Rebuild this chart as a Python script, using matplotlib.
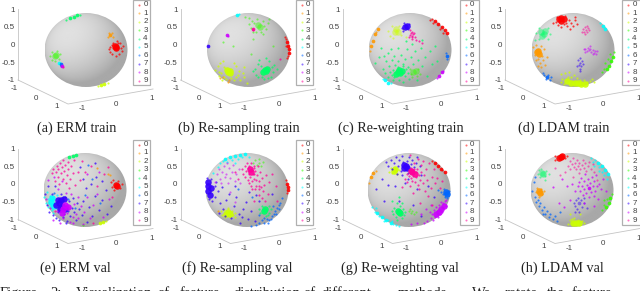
import numpy as np
import matplotlib
matplotlib.use("Agg")
import matplotlib.pyplot as plt
from matplotlib.patches import Ellipse, Rectangle

# class colours, hsv(10)
colors = ["#FF0000","#FF9900","#CCFF00","#33FF00","#00FF66","#00FFFF","#0066FF","#3300FF","#CC00FF","#FF0099"]
z_ticks = [-1,-0.5,0,0.5,1]
floor_ticks = ["-1","0","1"]
titles = ["(a) ERM train","(b) Re-sampling train","(c) Re-weighting train","(d) LDAM train",
          "(e) ERM val","(f) Re-sampling val","(g) Re-weighting val","(h) LDAM val"]
caption_words = ["Figure","2:","Visualization","of","feature","distribution","of","different","methods.","We","rotate","the","feature"]

# points as seen on the sphere, 1 = edge of the ball. core = solid blobs, dots = single samples
core_a = {0:[(.72,.09),(.73,.05),(.70,.12)], 1:[(.59,.40)], 3:[(-.75,-.17),(-.73,-.13)], 4:[(-.38,.86),(-.30,.90),(-.22,.94)],
          2:[(.36,-.95),(.44,-.92)], 5:[(-.64,-.34)], 6:[(-.61,-.39)], 8:[(-.58,-.43)]}
dots_a = {0:[(.55,.02),(.58,-.05),(.62,-.10),(.62,.14),(.66,.20),(.74,.24),(.83,.19),(.88,.12),(.86,-.02),(.80,-.10),(.72,-.15),(.65,.05),(.59,.08),(.84,.06),(.78,.18)],
          1:[(.55,.47),(.63,.46),(.54,.36),(.64,.34)],
          3:[(-.86,-.15),(-.82,-.28),(-.74,-.31),(-.66,-.24),(-.63,-.10),(-.70,-.02),(-.82,-.06)],
          4:[(-.47,.82),(-.15,.95)], 2:[(.28,-.97),(.52,-.88)], 7:[(-.60,-.42)], 9:[(-.56,-.45)]}

core_b = {0:[(.93,.22),(.96,.12),(.97,.02),(.97,-.08)], 2:[(-.50,-.60),(-.44,-.63),(-.52,-.54),(-.45,-.56)], 4:[(.40,-.54),(.43,-.58),(.36,-.60),(.44,-.50)],
          3:[(.22,.67),(.28,.62)], 5:[(-.28,.95)], 9:[(.10,.57)], 8:[(-.52,.40)], 7:[(-.98,.10)]}
dots_b = {0:[(.88,.35),(.90,.30),(.96,-.16),(.93,-.22),(.90,.10)],
          2:[(-.80,-.55),(-.74,-.44),(-.72,-.70),(-.70,-.60),(-.68,-.36),(-.64,-.80),(-.60,-.46),(-.58,-.72),(-.34,-.82),(-.30,-.42),(-.26,-.68),(-.22,-.58),(-.20,-.80),(-.14,-.62),(-.10,-.74),(-.04,-.88),(-.36,-.36),(-.62,-.30),(-.66,-.62),(-.30,-.74),(-.42,-.76),(-.54,-.78),(-.12,-.46)],
          4:[(.16,-.50),(.18,-.68),(.22,-.38),(.24,-.74),(.26,-.28),(.30,-.44),(.32,-.74),(.50,-.30),(.56,-.46),(.60,-.60),(.62,-.40),(.55,-.72),(.42,-.22),(.38,-.78),(.10,-.58),(.68,-.52),(.48,-.76)],
          3:[(.02,.70),(.06,.60),(.08,.78),(.12,.48),(.14,.72),(.18,.50),(.30,.50),(.34,.78),(.38,.66),(.42,.58),(.46,.72),(.36,.44),(.20,.84),(-.08,.88),(.00,.86),(.50,.84),(-.38,.10),(-.62,.22),(.06,-.12),(.60,.10),(.10,.30)],
          1:[(-.68,-.76),(-.62,-.72),(-.50,-.86),(-.46,-.80)], 5:[(-.24,.96)], 8:[(-.49,.38)], 9:[(.75,-.25),(.12,.54)]}

core_c = {0:[(.60,.78),(.68,.71),(.76,.63),(.84,.54),(.90,.46)], 1:[(-.94,.10),(-.90,.25),(-.84,.42),(-.76,.58)], 2:[(-.35,.50),(-.30,.48),(-.34,.56)], 7:[(-.12,.62),(-.08,.64)],
          4:[(-.30,-.60),(-.24,-.63),(-.19,-.58),(-.27,-.55),(-.34,-.64)], 3:[(.08,-.60),(.14,-.57)], 8:[(.70,-.70),(.76,-.60)], 6:[(.88,-.16)], 5:[(-.60,-.82),(-.52,-.88)]}
dots_c = {0:[(.52,.84),(.48,.80),(.56,.72),(.72,.56),(.80,.46)],
          4:[(-.84,-.36),(-.74,-.20),(-.66,-.52),(-.62,-.16),(-.60,-.62),(-.58,-.30),(-.54,-.08),(-.52,-.74),(-.50,-.44),(-.46,.02),(-.44,-.26),(-.42,-.80),(-.38,-.16),(-.36,-.40),(-.30,-.30),(-.28,.06),(-.26,-.80),(-.22,-.14),(-.18,-.38),(-.16,-.86),(-.12,-.24),(-.08,.02),(-.06,-.46),(-.02,-.78),(.02,-.20),(.04,.16),(.08,-.38),(.12,-.04),(.16,-.80),(.20,-.26),(.26,.06),(.30,-.44),(.36,-.18),(.42,-.70),(.48,-.02),(.52,-.38),(.60,.10),(.66,-.30),(-.70,.06),(-.10,.24),(.30,.28),(-.40,-.54),(-.48,-.60),(-.04,-.62),(-.12,-.70),(-.10,-.52),(-.18,-.44),(-.38,-.72),(-.30,-.46),(-.44,-.68)],
          3:[(.00,-.50),(.02,-.66),(.20,-.52),(.24,-.64),(.18,-.70),(.06,-.74)],
          2:[(-.52,.52),(-.48,.38),(-.44,.64),(-.22,.40),(-.18,.56),(-.26,.66),(-.40,.32),(-.10,.36)],
          7:[(-.20,.60),(-.14,.72),(-.04,.56),(-.03,.70),(-.16,.52)],
          9:[(.00,.54),(.02,.46),(.04,.38),(.06,.50),(.08,.42),(.04,.30),(.12,.36),(.14,.28),(.22,.24),(.00,.40),(.28,.20),(-.02,.34),(.10,.46),(.06,.34)],
          8:[(.66,-.76),(.80,-.56)], 5:[(-.66,-.78),(-.46,-.90)], 6:[(.86,-.08),(.90,-.24)],
          1:[(-.96,-.04),(-.82,.50)]}

core_d = {0:[(-.34,.84),(-.28,.86),(-.22,.83),(-.28,.78)], 4:[(-.76,.50),(-.70,.44),(-.74,.38),(-.68,.52)], 1:[(-.84,-.02),(-.82,-.10),(-.86,-.05)], 5:[(.72,.66),(.78,.58)],
          2:[(-.14,-.84),(-.06,-.88),(.04,-.90),(.12,-.88),(.20,-.92),(.30,-.92)], 3:[(.96,-.18),(.92,-.30),(.87,-.42),(.82,-.52)], 6:[(-.62,-.74)]}
dots_d = {0:[(-.10,.82),(-.04,.74),(.04,.80),(.00,.66),(-.14,.66),(-.08,.58),(-.22,.70),(-.42,.76),(-.48,.72),(-.36,.68),(-.30,.62),(-.16,.74),(.06,.88),(-.20,.92),(-.38,.90),(.10,.70)],
          1:[(-.96,.08),(-.92,-.14),(-.90,-.28),(-.84,-.24),(-.80,-.36),(-.74,-.16),(-.72,-.28),(-.70,.02),(-.68,-.40),(-.76,-.46),(-.84,-.44),(-.62,-.20),(-.78,.12),(-.88,.14)],
          9:[(.24,.58),(.26,.50),(.28,.62),(.32,.54),(.34,.48),(.36,.60),(.30,.44),(.38,.54),(.22,.48),(.34,.66)],
          8:[(.26,.02),(.30,.04),(.33,-.02),(.36,.06),(.38,.00),(.42,.02),(.44,-.05),(.47,.00),(.50,-.08),(.53,-.04),(.56,-.10),(.28,-.06),(.40,.10),(.48,-.12),(.58,-.02)],
          7:[(.12,-.28),(.14,-.40),(.16,-.50),(.18,-.34),(.20,-.44),(.22,-.30),(.24,-.38),(.16,-.22),(.10,-.44),(.18,-.56)],
          6:[(-.70,-.68),(-.66,-.78),(-.60,-.68),(-.56,-.80),(-.54,-.72),(-.72,-.62)],
          2:[(-.28,-.66),(-.26,-.78),(-.20,-.62),(-.22,-.92),(-.12,-.72),(-.10,-.60),(-.04,-.74),(.02,-.68),(.10,-.76),(.18,-.80),(.26,-.82),(.34,-.86),(.40,-.84),(.46,-.78),(-.30,-.86),(.50,-.86)],
          3:[(.90,-.10),(.84,-.24),(.78,-.36),(.74,-.50),(.70,-.60),(.98,-.06)],
          4:[(-.88,.46),(-.82,.60),(-.60,.60),(-.56,.44),(-.60,.30),(-.82,.30),(-.92,.28)], 5:[(.66,.72)]}

core_e = {0:[(.74,.13),(.76,.11)], 4:[(-.38,.88),(-.30,.92),(-.22,.95)], 2:[(.36,-.90),(.44,-.87)], 7:[(-.62,-.34),(-.56,-.42),(-.66,-.26),(-.58,-.28),(-.60,-.50),(-.70,-.40),(-.50,-.24),(-.48,-.50)],
          5:[(-.82,-.32),(-.76,-.42),(-.80,-.22)], 8:[(-.52,-.52),(-.48,-.40),(-.42,-.46),(-.56,-.62)]}
dots_e = {0:[(.62,.22),(.66,.08),(.68,.26),(.80,.24),(.84,.06),(.70,.00),(.90,.16)], 1:[(.60,.40),(.56,.44),(.30,.60)],
          7:[(-.96,-.10),(-.92,-.40),(-.90,.10),(-.86,-.60),(-.80,-.10),(-.76,-.68),(-.72,.12),(-.70,-.76),(-.64,-.60),(-.62,-.80),(-.58,-.12),(-.54,-.74),(-.50,-.64),(-.48,-.20),(-.44,-.84),(-.42,-.58),(-.38,-.30),(-.36,-.70),(-.32,-.48),(-.28,-.22),(-.26,-.60),(-.22,-.82),(-.20,-.36),(-.14,-.52),(-.08,-.68),(-.04,-.30),(.04,-.86),(.10,-.46),(.18,-.70),(.24,-.16),(.34,-.54),(.42,-.28),(.52,-.66),(.14,.16),(.26,.36),(.02,.06),(-.06,.30),(.40,.24),(.50,.00),(.62,-.44),(-.12,.62),(.24,.72),(-.46,-.90)],
          8:[(-.94,-.24),(-.88,.28),(-.84,-.48),(-.78,-.80),(-.74,.34),(-.68,-.58),(-.64,.04),(-.60,-.88),(-.56,.24),(-.52,-.76),(-.46,-.08),(-.44,-.62),(-.40,-.46),(-.36,-.86),(-.34,-.12),(-.30,-.72),(-.26,-.38),(-.22,-.66),(-.18,-.18),(-.16,-.76),(-.10,-.44),(-.02,-.60),(.06,-.20),(.12,-.76),(.20,-.40),(.30,-.10),(.44,-.72),(.58,-.24),(.06,.42),(.34,.48),(-.30,-.90),(-.04,-.92)],
          9:[(-.80,.46),(-.76,.56),(-.72,.24),(-.70,.48),(-.68,.66),(-.66,.36),(-.64,.58),(-.62,.16),(-.60,.72),(-.58,.46),(-.56,.62),(-.54,.30),(-.52,.82),(-.50,.52),(-.48,.68),(-.46,.18),(-.44,.40),(-.42,.76),(-.40,.58),(-.38,.06),(-.36,.30),(-.34,.66),(-.30,.46),(-.26,.80),(-.24,.14),(-.18,.50),(-.12,.26),(-.08,.78),(.00,.50),(.14,.64),(.28,.10),(.46,.44),(.56,.62),(.66,-.18),(.20,-.88),(-.72,-.56)],
          5:[(-.98,-.18),(-.94,-.36),(-.90,-.24),(-.88,-.46),(-.84,-.16),(-.80,-.54),(-.76,-.20),(-.72,-.34),(-.70,-.48),(-.92,-.06),(-.68,-.14),(-.86,-.34),(-.78,-.62)],
          6:[(-.74,-.08),(-.54,-.18),(-.40,-.24),(-.24,-.48),(.00,-.14),(.18,.30),(.36,-.36),(.08,.68)],
          3:[(-.06,-.94)], 2:[(.50,-.84)]}

core_f = {0:[(.97,.16),(.98,.08),(.98,.00)], 7:[(-.93,.22),(-.95,.10),(-.94,-.02),(-.90,-.14),(-.86,.06)], 5:[(-.52,.84),(-.40,.89),(-.28,.92),(-.16,.94),(-.04,.96)],
          2:[(-.46,-.60),(-.42,-.64),(-.50,-.64)], 4:[(.44,-.52),(.42,-.58)], 9:[(.10,.50),(.08,.58)]}
dots_f = {0:[(.95,.26),(.96,-.08)],
          7:[(-.96,.32),(-.92,-.24),(-.86,.30),(-.84,-.30),(-.78,.10),(-.76,-.18),(-.74,.22),(-.70,-.04),(-.64,-.34),(-.60,.08),(-.58,-.52),(-.50,-.26),(-.44,-.12),(-.38,-.76),(-.32,-.44),(-.26,-.20),(-.20,-.66),(-.16,-.88),(-.10,-.50),(-.02,-.32),(.02,-.78),(.10,-.58),(.20,-.84),(.30,-.30),(.06,-.06),(-.30,.10),(.60,-.12),(.22,-.14),(-.12,-.72),(-.68,-.62),(-.52,-.70)],
          9:[(-.12,.56),(-.10,.42),(-.06,.66),(-.04,.36),(-.02,.52),(.00,.74),(.02,.28),(.04,.44),(.06,.64),(.08,.36),(.10,.72),(.12,.24),(.14,.44),(.16,.60),(.18,.30),(.20,.52),(.22,.12),(.24,.40),(.26,.66),(.28,.04),(.30,.24),(.32,.50),(.34,.08),(.36,.32),(.38,-.02),(.42,.14),(.46,.40),(.50,-.10),(.54,.22),(.60,.44),(.20,.02),(.12,.02),(.28,-.14),(.36,-.22),(-.22,.30),(-.30,.50),(.70,.12),(.44,-.30),(.72,-.30),(.18,-.30),(.05,.20),(.10,.12),(.30,.12),(.22,.26),(.18,.44),(.02,.60),(.12,.54),(.16,.66)],
          8:[(-.72,.44),(-.68,.58),(-.66,.30),(-.60,.50),(-.56,.66),(-.54,.34),(-.50,.44),(-.46,.18),(-.44,.60),(-.40,.32),(-.36,.50),(-.34,.68),(-.30,.24),(-.26,.42),(-.20,.58),(-.16,.18),(-.76,.22),(-.62,.18),(-.42,-.06),(-.30,-.32),(-.48,.74)],
          5:[(-.66,.72),(-.58,.78),(-.48,.76),(-.36,.82),(-.22,.84),(-.12,.88),(.04,.90),(-.70,.62),(-.82,.46),(-.30,.74)],
          3:[(.14,.74),(.20,.80),(.24,.68),(.28,.74),(.34,.66),(.38,.76),(.30,.84)],
          2:[(-.62,-.56),(-.60,-.68),(-.56,-.54),(-.54,-.72),(-.36,-.56),(-.34,-.68),(-.30,-.62),(-.40,-.74),(-.46,-.48),(-.28,-.74)],
          4:[(.30,-.50),(.32,-.62),(.36,-.42),(.52,-.44),(.54,-.62),(.50,-.68),(.58,-.52),(.46,-.70)],
          6:[(.10,-.96),(.22,-.94),(.30,-.90),(.36,-.82),(.42,-.88),(.48,-.78),(.54,-.80),(.60,-.70),(.64,-.64),(.68,-.56),(.72,-.48),(.76,-.40),(.80,-.34),(.62,-.44),(.50,-.88),(.70,-.66),(.40,-.76),(.84,-.22),(.58,-.78),(.30,-.68),(.78,-.52),(-.22,.02),(.12,-.20)],
          1:[(-.70,-.58)]}

core_g = {0:[(.62,.72),(.70,.65),(.78,.58),(.86,.50)], 1:[(-.92,.34),(-.86,.46)], 2:[(-.36,.52),(-.33,.56)], 7:[(-.12,.68),(-.08,.66),(-.12,.60),(-.05,.60)], 9:[(.08,.48),(.14,.42),(.05,.52)],
          6:[(.92,-.12),(.90,-.06)], 8:[(.72,-.60),(.78,-.52),(.66,-.66),(.84,-.44)], 5:[(-.76,-.62),(-.66,-.74),(-.56,-.82),(-.44,-.90)], 4:[(-.25,-.60),(-.22,-.62),(-.27,-.56)]}
dots_g = {0:[(.56,.78),(.80,.54)],
          7:[(-.56,.76),(-.50,.66),(-.44,.82),(-.40,.56),(-.36,.72),(-.32,.90),(-.30,.44),(-.26,.64),(-.24,.80),(-.20,.52),(-.18,.92),(-.16,.40),(-.14,.76),(-.04,.78),(-.02,.46),(.00,.88),(.04,.70),(.08,.80),(.12,.62),(.16,.74),(.20,.90),(.26,.66),(-.66,.30),(-.34,.10),(-.10,.20),(.30,.40),(.46,.12),(.20,.04),(-.50,.14),(-.24,-.30),(.60,-.20),(-.02,.30),(.28,-.70),(.10,-.40),(-.80,.04),(-.60,-.30)],
          9:[(-.10,.30),(-.06,.44),(-.04,.22),(.00,.38),(.02,.12),(.04,.32),(.06,.60),(.08,.24),(.10,.38),(.12,.56),(.14,.22),(.16,.48),(.18,.34),(.20,.58),(.22,.14),(.24,.40),(.26,.26),(.28,.50),(.30,.68),(.34,.18),(.36,.40),(.40,.56),(.44,.28),(.48,.72),(.52,.06),(.56,.36),(.62,.20),(.68,.32),(.74,.06),(.38,-.04),(.24,.02),(.46,-.16),(.10,-.08),(-.18,.08),(.56,-.40),(.26,-.36),(.80,.24),(.12,.74),(.22,.84),(.34,.78),(.02,.94),(.60,.56)],
          2:[(-.48,.50),(-.44,.60),(-.42,.46),(-.30,.44),(-.24,.54)],
          4:[(-.42,-.56),(-.38,-.66),(-.36,-.48),(-.32,-.74),(-.14,-.52),(-.12,-.68),(-.10,-.60),(-.18,-.76),(-.22,-.44),(-.30,-.36),(-.28,-.82),(-.40,-.30),(-.25,-.18),(-.18,-.34)],
          3:[(.00,-.58),(.04,-.62),(.08,-.58),(.12,-.64),(.16,-.60),(.03,-.52)],
          8:[(.52,-.76),(.56,-.64),(.58,-.82),(.60,-.54),(.62,-.72),(.64,-.46),(.68,-.56),(.70,-.72),(.72,-.40),(.74,-.66),(.76,-.32),(.80,-.60),(.82,-.34),(.86,-.30),(.90,-.28),(.44,-.84),(.50,-.60),(.36,-.88),(.30,-.66),(.42,-.50),(.54,-.40),(.88,-.42),(.06,-.92),(.20,-.90)],
          5:[(-.88,-.46),(-.82,-.60),(-.72,-.70),(-.62,-.72),(-.60,-.84),(-.50,-.80),(-.42,-.84),(-.32,-.94),(-.38,-.92),(-.24,-.96),(-.80,-.48)],
          6:[(.82,-.12),(.86,-.20),(.96,-.04),(.84,.02),(.92,-.22),(.78,-.06),(.70,.00)],
          1:[(-.80,.52),(-.96,.20)]}

core_h = {0:[(-.32,.87),(-.27,.90),(-.23,.92)], 4:[(-.72,.46),(-.70,.42)], 1:[(-.79,-.02),(-.78,-.08)], 5:[(.62,.74),(.72,.64),(.80,.54),(.86,.42)],
          2:[(.02,-.88),(.10,-.90),(.17,-.88)], 3:[(.92,-.22),(.88,-.34),(.82,-.46)], 7:[(.18,-.36)], 8:[(.42,.06)]}
dots_h = {0:[(-.40,.82),(-.18,.86),(-.12,.92),(-.42,.92)],
          9:[(-.10,.66),(-.06,.78),(-.04,.58),(.00,.70),(.02,.86),(.04,.62),(.08,.74),(.10,.56),(.12,.82),(.14,.66),(.18,.74),(.20,.58),(.24,.68),(.26,.82),(.28,.60),(.32,.72),(.34,.52),(.38,.64),(.42,.76),(.46,.58),(.50,.70),(.54,.50),(.16,.46),(-.18,.50),(-.30,.40),(-.40,.60),(.60,.28),(.02,.36)],
          8:[(.14,.10),(.18,.22),(.20,-.04),(.22,.32),(.24,.12),(.26,-.14),(.28,.02),(.30,.24),(.32,.42),(.34,-.08),(.36,.14),(.38,.30),(.40,-.20),(.44,.20),(.46,-.06),(.48,.34),(.50,.10),(.52,-.16),(.54,.24),(.56,-.02),(.58,.40),(.60,.12),(.62,-.24),(.66,.16),(.70,.02),(.74,.30),(.08,-.02),(.00,.16),(-.12,.10),(-.24,.30),(.30,-.34),(.52,-.42),(-.32,-.36),(-.20,-.46),(-.06,-.26),(-.46,.08),(.82,-.02)],
          7:[(.04,-.34),(.08,-.42),(.10,-.28),(.12,-.50),(.14,-.22),(.22,-.28),(.24,-.46),(.28,-.36),(.30,-.22),(.08,-.60),(.36,-.48),(.18,-.60)],
          4:[(-.82,.44),(-.80,.54),(-.76,.36),(-.74,.58),(-.66,.38),(-.62,.52),(-.64,.28),(-.56,.44)],
          1:[(-.86,-.06),(-.84,.06),(-.74,.04),(-.72,-.12),(-.80,-.18),(-.68,-.02)],
          5:[(.50,.76),(.54,.66),(.64,.62),(.66,.52),(.72,.48),(.78,.40),(.84,.30),(.46,.86),(.56,.80)],
          6:[(-.90,-.18),(-.86,-.32),(-.82,-.26),(-.80,-.44),(-.76,-.36),(-.72,-.54),(-.68,-.46),(-.64,-.66),(-.60,-.56),(-.56,-.74),(-.52,-.66),(-.46,-.78),(-.40,-.70),(-.96,-.02),(-.92,.22),(-.88,.36),(-.70,-.66),(-.36,-.84),(-.30,-.60)],
          3:[(.96,-.10),(.84,-.24),(.78,-.40),(.72,-.54),(.76,-.26)],
          2:[(-.10,-.92),(-.06,-.80),(.00,-.78),(.06,-.76),(.14,-.80),(.24,-.84),(.28,-.90),(-.04,-.66),(.20,-.64)]}

panels = [(core_a,dots_a),(core_b,dots_b),(core_c,dots_c),(core_d,dots_d),(core_e,dots_e),(core_f,dots_f),(core_g,dots_g),(core_h,dots_h)]
faint = [{3},{3},{2,3},{4,7,8,9},set(),{3,8},{3},{4,7,9}]
# classes squeezed along the rim, drawn with a smaller blob
rim = [{2,4},{0},{0,1,5,6,8},{3,5},{2,4},{0,5},{0,1,5},{3,5}]

W,H = 640,291
fig = plt.figure(figsize=(W/100,H/100),dpi=100)
bg = fig.add_axes([0,0,1,1])
bg.set_xlim(0,W); bg.set_ylim(H,0); bg.axis("off")

def px_axes(x0,y0,x1,y1):
    return fig.add_axes([x0/W,1-y1/H,(x1-x0)/W,(y1-y0)/H])

# sphere shading
g = np.linspace(-1,1,160)
u,v = np.meshgrid(g,g)
n = np.sqrt(np.clip(1-u**2-v**2,0,1))
shade = 0.66+0.22*np.clip(-0.45*u+0.45*v+0.77*n,0,1)

sans = "Liberation Sans"
tick_col = "#404040"
line_col = "#c4c4c4"
fs = 5.8
dx = [0,162.5,324.5,487]
cx = [86,248.5,410,573,85,247,409,572]
cy = [50,50,50,50,190,190,190,190]
dy = [0,0,0,0,139.5,139.5,139.5,139.5]

for i,(core,dots) in enumerate(panels):
    ox = dx[i%4]; oy = dy[i]
    # box edges on the floor
    bg.plot([18+ox,68+ox,153+ox],[80+oy,104+oy,89+oy],color=line_col,lw=0.6)
    for t,(a,b) in zip(floor_ticks,[(14,89),(36,98),(57,107)]):
        bg.text(a+ox,b+oy,t,ha="center",va="center",fontsize=fs,color=tick_col,family=sans)
    for t,(a,b) in zip(floor_ticks,[(82,109),(116,104),(152,99)]):
        bg.text(a+ox,b+oy,t,ha="center",va="center",fontsize=fs,color=tick_col,family=sans)
    # z axis
    zax = px_axes(18+ox,9+oy,19+ox,80+oy)
    zax.set_ylim(-1,1); zax.set_xticks([]); zax.set_yticks(z_ticks)
    zax.set_yticklabels([f"{t:g}" for t in z_ticks],fontsize=fs,color=tick_col,family=sans)
    zax.tick_params(axis="y",length=0,pad=2.2)
    for s in ["top","right","bottom"]:
        zax.spines[s].set_visible(False)
    zax.spines["left"].set_color(line_col); zax.spines["left"].set_linewidth(0.6)
    zax.patch.set_alpha(0)
    # ball
    ax = px_axes(cx[i]-41.5,cy[i]-37,cx[i]+41.5,cy[i]+37)
    ax.set_xlim(-1,1); ax.set_ylim(-1,1); ax.axis("off")
    im = ax.imshow(shade,extent=(-1,1,-1,1),origin="lower",cmap="gray",vmin=0,vmax=1,aspect="auto")
    im.set_clip_path(Ellipse((0,0),2,2,transform=ax.transData))
    for c in range(10):
        a = 0.45 if c in faint[i] else 0.9
        if c in dots:
            ax.scatter(*zip(*dots[c]),s=2.4,color=colors[c],alpha=0.75 if a>0.5 else 0.55,lw=0,clip_on=False)
        if c in core:
            size = 7 if (c in rim[i] or len(core[c])==1) else 22
            ax.scatter(*zip(*core[c]),s=size,color=colors[c],alpha=a,lw=0,clip_on=False)
    # legend box
    lx = 133+ox+(2 if i%4>=2 else 0)
    lw_box = 17 if i%4<2 else 19
    bg.add_patch(Rectangle((lx,0+oy),lw_box,85,fill=False,ec="#b0b0b0",lw=0.9))
    for c in range(10):
        y = 5+oy+c*8.4
        bg.scatter([lx+6],[y],s=2.2,color=colors[c],alpha=0.55,lw=0)
        bg.text(lx+12.5,y,str(c),ha="center",va="center",fontsize=fs,color=tick_col,family=sans)
    bg.text(cx[i]-9.5,128.5+oy,titles[i],ha="center",va="center",fontsize=10.2,color="#222222",family="Liberation Serif")

# caption, cut off by the page edge
word_x = [0,50,76,157,180,233,303,322,398,472,505,547,572]
for w,x in zip(caption_words,word_x):
    bg.text(x,297,w,ha="left",va="baseline",fontsize=10.5,color="#222222",family="Liberation Serif")

fig.savefig("out.png",dpi=100)
